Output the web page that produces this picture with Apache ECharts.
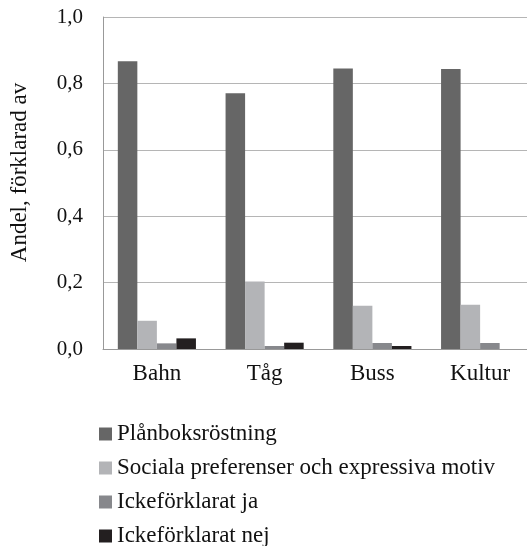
<!DOCTYPE html>
<html><head><meta charset="utf-8">
<script src="https://cdn.jsdelivr.net/npm/echarts@6/dist/echarts.min.js"></script>
<style>html,body{margin:0;padding:0;overflow:hidden;background:#fff}#c{width:540px;height:546px}</style>
</head><body><div id="c"></div>
<script>
const categories = ['Bahn', 'Tåg', 'Buss', 'Kultur'];
const seriesNames = ['Plånboksröstning', 'Sociala preferenser och expressiva motiv', 'Ickeförklarat ja', 'Ickeförklarat nej'];
const planboks = [0.867, 0.770, 0.845, 0.843];
const sociala = [0.085, 0.203, 0.130, 0.133];
const ickeJa = [0.017, 0.009, 0.018, 0.018];
const ickeNej = [0.032, 0.019, 0.009, 0];
const colors = ['#666666', '#b3b4b7', '#87888c', '#231f20'];
const font = '"Liberation Serif", "DejaVu Serif", serif';

const chart = echarts.init(document.getElementById('c'));
const values = [planboks, sociala, ickeJa, ickeNej];
const legendCenters = [434, 468, 502, 536];
chart.setOption({
  animation: false,
  grid: { left: 98, right: 6, top: 17, bottom: 197 },
  xAxis: {
    type: 'category', data: categories,
    axisLine: { lineStyle: { color: '#999' } },
    axisTick: { show: false },
    axisLabel: { color: '#111', fontFamily: font, fontSize: 23, margin: 13 }
  },
  yAxis: {
    type: 'value', min: 0, max: 1, interval: 0.2,
    name: 'Andel, förklarad av', nameLocation: 'middle', nameGap: 72,
    nameTextStyle: { color: '#111', fontFamily: font, fontSize: 23, padding: [0, 0, 0, 21] },
    axisLine: { show: true, lineStyle: { color: '#999' } },
    axisTick: { show: false },
    splitLine: { lineStyle: { color: '#b5b5b5' } },
    axisLabel: { color: '#111', fontFamily: font, fontSize: 21, margin: 20,
      formatter: v => v.toFixed(1).replace('.', ',') }
  },
  legend: seriesNames.map((n, i) => ({
    orient: 'vertical', left: 99, top: legendCenters[i] - 12,
    itemWidth: 13, itemHeight: 13, padding: 0,
    icon: 'rect',
    textStyle: { color: '#111', fontFamily: font, fontSize: 23, lineHeight: 24 },
    data: [n]
  })),
  series: seriesNames.map((n, i) => ({
    name: n, type: 'bar', data: values[i],
    itemStyle: { color: colors[i] },
    barGap: '0%', barCategoryGap: '27.5%'
  }))
});
</script></body></html>
